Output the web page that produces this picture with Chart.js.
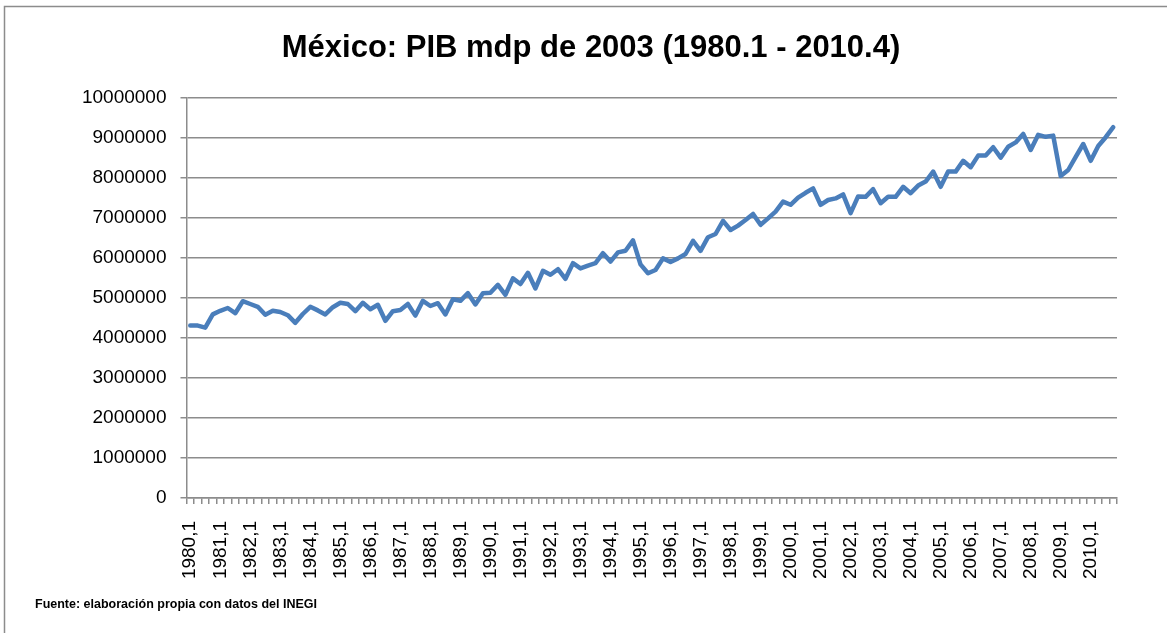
<!DOCTYPE html>
<html lang="es">
<head>
<meta charset="utf-8">
<title>México: PIB mdp de 2003</title>
<script src="https://cdn.jsdelivr.net/npm/chart.js@4.4.1/dist/chart.umd.min.js"></script>
<style>
  html, body { margin: 0; padding: 0; background: #fff; }
  canvas { display: block; }
</style>
</head>
<body>
<canvas id="graficaPIB" width="1167" height="633"></canvas>
<script>
// Años y trimestres (1980.1 - 2010.4)
const anios = [1980, 1981, 1982, 1983, 1984, 1985, 1986, 1987, 1988, 1989,
               1990, 1991, 1992, 1993, 1994, 1995, 1996, 1997, 1998, 1999,
               2000, 2001, 2002, 2003, 2004, 2005, 2006, 2007, 2008, 2009, 2010];
const trimestres = [1, 2, 3, 4];

// PIB trimestral, millones de pesos de 2003
const pib = [
  4310000, 4310000, 4260000, 4590000,   // 1980
  4680000, 4750000, 4620000, 4920000,   // 1981
  4850000, 4780000, 4580000, 4680000,   // 1982
  4650000, 4570000, 4380000, 4600000,   // 1983
  4780000, 4690000, 4590000, 4770000,   // 1984
  4880000, 4850000, 4670000, 4880000,   // 1985
  4720000, 4830000, 4430000, 4670000,   // 1986
  4700000, 4850000, 4560000, 4930000,   // 1987
  4800000, 4870000, 4590000, 4970000,   // 1988
  4930000, 5120000, 4840000, 5120000,   // 1989
  5130000, 5330000, 5080000, 5490000,   // 1990
  5350000, 5630000, 5240000, 5680000,   // 1991
  5580000, 5720000, 5480000, 5870000,   // 1992
  5740000, 5810000, 5870000, 6120000,   // 1993
  5910000, 6140000, 6180000, 6440000,   // 1994
  5840000, 5620000, 5700000, 5990000,   // 1995
  5900000, 5990000, 6100000, 6430000,   // 1996
  6180000, 6520000, 6600000, 6930000,   // 1997
  6700000, 6810000, 6950000, 7100000,   // 1998
  6830000, 6990000, 7160000, 7410000,   // 1999
  7330000, 7510000, 7630000, 7740000,   // 2000
  7330000, 7450000, 7490000, 7590000,   // 2001
  7120000, 7540000, 7530000, 7720000,   // 2002
  7370000, 7530000, 7530000, 7780000,   // 2003
  7620000, 7810000, 7910000, 8160000,   // 2004
  7780000, 8160000, 8160000, 8430000,   // 2005
  8270000, 8560000, 8560000, 8770000,   // 2006
  8510000, 8780000, 8890000, 9100000,   // 2007
  8700000, 9080000, 9030000, 9060000,   // 2008
  8050000, 8200000, 8530000, 8850000,   // 2009
  8430000, 8800000, 9020000, 9270000    // 2010
];

// Etiquetas tipo "1980,1"
const etiquetas = [];
anios.forEach(a => trimestres.forEach(t => etiquetas.push(a + ',' + t)));

const titulo = 'México: PIB mdp de 2003 (1980.1 - 2010.4)';
const fuente = 'Fuente: elaboración propia con datos del INEGI';

const gris = '#8c8c8c';
const fuenteTexto = '"Liberation Sans", Arial, sans-serif';

// Marco del gráfico, título y nota de la fuente
const marcoPlugin = {
  id: 'marco',
  beforeDraw(chart) {
    const ctx = chart.ctx;
    ctx.save();
    ctx.fillStyle = '#fff';
    ctx.fillRect(0, 0, chart.width, chart.height);
    ctx.restore();
  },
  afterDraw(chart) {
    const ctx = chart.ctx;
    ctx.save();
    ctx.strokeStyle = gris;
    ctx.lineWidth = 1.5;
    ctx.beginPath();
    ctx.moveTo(4.5, chart.height);
    ctx.lineTo(4.5, 6.5);
    ctx.lineTo(chart.width, 6.5);
    ctx.stroke();

    ctx.fillStyle = '#000';
    ctx.textBaseline = 'middle';

    ctx.font = 'bold 31px ' + fuenteTexto;
    ctx.textAlign = 'center';
    ctx.fillText(titulo, 591, 48);

    ctx.font = 'bold 12.5px ' + fuenteTexto;
    ctx.textAlign = 'left';
    ctx.fillText(fuente, 35, 605);
    ctx.restore();
  }
};

const ctx = document.getElementById('graficaPIB').getContext('2d');
new Chart(ctx, {
  type: 'line',
  data: {
    labels: etiquetas,
    datasets: [{
      label: 'PIB',
      data: pib,
      borderColor: '#4a7ebb',
      backgroundColor: '#4a7ebb',
      borderWidth: 4.5,
      borderJoinStyle: 'round',
      borderCapStyle: 'round',
      pointRadius: 0,
      tension: 0,
      fill: false
    }]
  },
  options: {
    responsive: false,
    animation: false,
    layout: { padding: { left: 10, right: 50, top: 98, bottom: 40 } },
    plugins: {
      legend: { display: false },
      tooltip: { enabled: false },
      title: { display: false }
    },
    scales: {
      x: {
        type: 'category',
        offset: true,
        afterFit(scale) { scale.height = 95; },
        grid: {
          offset: true,
          drawOnChartArea: false,
          drawTicks: true,
          tickLength: 6,
          color: gris,
          lineWidth: 1.5
        },
        border: { display: true, color: gris, width: 1.5 },
        ticks: {
          autoSkip: false,
          minRotation: 90,
          maxRotation: 90,
          padding: 17,
          color: '#000',
          font: { family: fuenteTexto, size: 19 },
          callback: (valor, i) => (i % 4 === 0 ? etiquetas[i] : '')
        }
      },
      y: {
        min: 0,
        max: 10000000,
        afterFit(scale) { scale.width = 176.5; },
        grid: { color: gris, lineWidth: 1.5, tickLength: 6 },
        border: { display: true, color: gris, width: 1.5 },
        ticks: {
          stepSize: 1000000,
          padding: 14,
          color: '#000',
          font: { family: fuenteTexto, size: 19 },
          callback: v => String(v)
        }
      }
    }
  },
  plugins: [marcoPlugin]
});
</script>
</body>
</html>
